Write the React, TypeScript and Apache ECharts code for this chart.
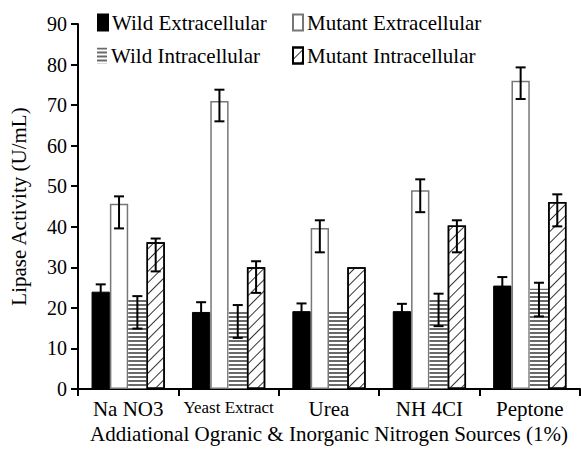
import React, { useEffect, useRef } from "react";
import * as echarts from "echarts";

const categories = ["Na NO3", "Yeast Extract", "Urea", "NH 4CI", "Peptone"];
const seriesNames = ["Wild Extracellular", "Mutant Extracellular", "Wild Intracellular", "Mutant Intracellular"];

const wildExtracellular = [24, 19, 19.2, 19.2, 25.5];
const mutantExtracellular = [45.7, 71, 39.7, 49, 76];
const wildIntracellular = [22, 19.2, 19.5, 22, 24.7];
const mutantIntracellular = [36.2, 30, 30, 40.3, 46.1];

// error bar ranges [low, high]; null = no error bar
const wildExtracellularErr = [[22.2, 25.8], [16.6, 21.4], [17.3, 21.1], [17.4, 21], [23.4, 27.6]];
const mutantExtracellularErr = [[39.6, 47.5], [66, 73.8], [33.7, 41.6], [43.6, 51.7], [71.5, 79.3]];
const wildIntracellularErr = [[14.9, 22.9], [12.6, 20.7], null, [15.5, 23.5], [17.9, 26.2]];
const mutantIntracellularErr = [[29, 37.1], [23.7, 31.5], null, [33.7, 41.6], [40.1, 48]];

const yTicks = { min: 0, max: 90, interval: 10 };
const FONT = "'Liberation Serif', 'Times New Roman', serif";
const GAP = 0.27;

export default function App() {
  const ref = useRef<HTMLDivElement>(null);
  useEffect(() => {
    if (!ref.current) return;
    const chart = echarts.init(ref.current, null, { renderer: "svg" });
    const values = [wildExtracellular, mutantExtracellular, wildIntracellular, mutantIntracellular];
    const errs = [wildExtracellularErr, mutantExtracellularErr, wildIntracellularErr, mutantIntracellularErr];
    const errData: number[][] = [];
    errs.forEach((arr, s) => {
      arr.forEach((e, c) => {
        if (e) errData.push([c, s, e[0], e[1]]);
      });
    });
    const styles: any[] = [
      { color: "#000", borderColor: "#000", borderWidth: 1 },
      { color: "#fff", borderColor: "#777", borderWidth: 1.5 },
      {
        color: "#fff",
        borderWidth: 0,
        decal: { symbol: "rect", symbolSize: 1, dashArrayX: [1, 0], dashArrayY: [1.2, 1.8], rotation: 0, color: "#6a6a6a" },
      },
      {
        color: "#fff",
        borderColor: "#000",
        borderWidth: 1.5,
        decal: { symbol: "rect", symbolSize: 1, dashArrayX: [1, 0], dashArrayY: [1, 7], rotation: -Math.PI / 4, color: "#333" },
      },
    ];
    const legendPos = [
      [97, 12],
      [292, 12],
      [97, 45],
      [292, 45],
    ];
    const option: any = {
      animation: false,
      backgroundColor: "#fff",
      textStyle: { fontFamily: FONT, color: "#000" },
      legend: seriesNames.map((n, i) => ({
        data: [n],
        left: legendPos[i][0],
        top: legendPos[i][1],
        padding: 0,
        icon: "rect",
        itemWidth: 10,
        itemHeight: 16,
        selectedMode: false,
        textStyle: { fontFamily: FONT, fontSize: 21, color: "#000", padding: [0, 0, 0, -1] },
      })),
      grid: { left: 72, right: 1, top: 24, bottom: 66 },
      xAxis: {
        type: "category",
        data: categories,
        axisLine: { lineStyle: { color: "#000", width: 2 } },
        axisTick: { show: true, length: 7, lineStyle: { color: "#000", width: 2 } },
        axisLabel: {
          color: "#000",
          fontFamily: FONT,
          fontSize: 21,
          margin: 9,
          interval: 0,
          formatter: (v: string) => (v === "Yeast Extract" ? "{n|" + v + "}" : v),
          rich: { n: { fontFamily: FONT, fontSize: 17, color: "#000", padding: [1, 0, 0, 0] } },
        },
        name: "Addiational Ogranic & Inorganic Nitrogen Sources (1%)",
        nameLocation: "middle",
        nameGap: 30,
        nameTextStyle: { fontFamily: FONT, fontSize: 21, color: "#000" },
      },
      yAxis: {
        type: "value",
        min: yTicks.min,
        max: yTicks.max,
        interval: yTicks.interval,
        axisLine: { show: true, lineStyle: { color: "#000", width: 2 } },
        axisTick: { show: true, length: 7, lineStyle: { color: "#000", width: 2 } },
        splitLine: { show: false },
        axisLabel: { color: "#000", fontFamily: FONT, fontSize: 20, margin: 11 },
        name: "Lipase Activity (U/mL)",
        nameLocation: "middle",
        nameGap: 49,
        nameTextStyle: { fontFamily: FONT, fontSize: 21, color: "#000" },
      },
      series: [
        ...seriesNames.map((n, i) => ({
          name: n,
          type: "bar",
          data: values[i],
          barGap: "0%",
          barCategoryGap: GAP * 100 + "%",
          itemStyle: styles[i],
        })),
        {
          type: "custom",
          name: "err",
          data: errData,
          encode: { x: 0, y: 3 },
          z: 10,
          renderItem: (params: any, api: any) => {
            const c = api.value(0);
            const s = api.value(1);
            const band = api.size([1, 0])[0];
            const bw = (band * (1 - GAP)) / 4;
            const x = api.coord([c, 0])[0] + (s - 1.5) * bw;
            const yLo = api.coord([c, api.value(2)])[1];
            const yHi = api.coord([c, api.value(3)])[1];
            const cap = 5;
            const st = { stroke: "#000", lineWidth: 2 };
            return {
              type: "group",
              children: [
                { type: "line", shape: { x1: x, y1: yLo, x2: x, y2: yHi }, style: st },
                { type: "line", shape: { x1: x - cap, y1: yLo, x2: x + cap, y2: yLo }, style: st },
                { type: "line", shape: { x1: x - cap, y1: yHi, x2: x + cap, y2: yHi }, style: st },
              ],
            };
          },
        },
      ],
    };
    chart.setOption(option);
    return () => chart.dispose();
  }, []);
  return <div ref={ref} style={{ position: "fixed", left: 0, top: 0, width: 581, height: 455 }} />;
}
